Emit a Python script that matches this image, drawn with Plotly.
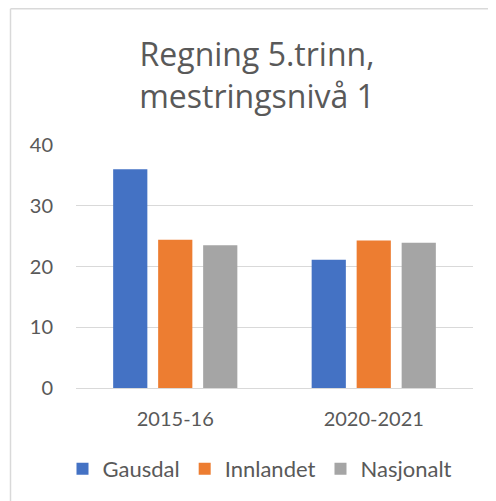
import plotly.graph_objects as go

categories = ["2015-16", "2020-2021"]
series_names = ["Gausdal", "Innlandet", "Nasjonalt"]
gausdal = [36.0, 21.1]
innlandet = [24.4, 24.3]
nasjonalt = [23.5, 23.9]
colors = ["#4472C4", "#ED7D31", "#A5A5A5"]
y_ticks = [0, 10, 20, 30, 40]
title_text = "Regning 5.trinn,<br>mestringsnivå 1"

# page body has an 8px margin, so the figure is drawn from (8, 8)
OFF = 8
W, H = 496 - OFF, 501 - OFF
ml, mr, mt, mb = 76 - OFF, 23, 145 - OFF, 113
pw, ph = W - ml - mr, H - mt - mb

FONT = "Lato"
TXT = "#595959"

fig = go.Figure()
for name, vals, col in zip(series_names, [gausdal, innlandet, nasjonalt], colors):
    fig.add_trace(go.Bar(x=categories, y=vals, name=name, marker_color=col,
                         marker_line_width=0))

# chart frame (left and top edges)
fx = (10 - OFF + 0.5 - ml) / pw
fy = (H - mb - (8 - OFF + 0.75)) / ph
fig.add_shape(type="line", xref="paper", yref="paper", x0=fx, x1=fx, y0=fy, y1=-1,
              line=dict(color="#D9D9D9", width=1.5))
fig.add_shape(type="line", xref="paper", yref="paper", x0=fx, x1=1.5, y0=fy, y1=fy,
              line=dict(color="#D9D9D9", width=1.5))

fig.update_layout(
    width=W, height=H,
    margin=dict(l=ml, r=mr, t=mt, b=mb, pad=0),
    paper_bgcolor="white", plot_bgcolor="white",
    barmode="group", bargap=0.32, bargroupgap=0.24,
    font=dict(family=FONT, color=TXT),
    title=dict(text=title_text, x=(257 - OFF) / W, xref="container", xanchor="center",
               y=1 - (66 - OFF) / H, yref="container", yanchor="middle",
               font=dict(family="Open Sans", size=32, color=TXT)),
    legend=dict(orientation="h", x=(260 - OFF) / W, xref="container", xanchor="center",
                y=1 - (469 - OFF) / H, yref="container", yanchor="middle",
                font=dict(family=FONT, size=22, color=TXT),
                itemwidth=30, traceorder="normal"),
    showlegend=True,
)
fig.update_yaxes(range=[0, 40], tickvals=y_ticks, showgrid=True, gridcolor="#D9D9D9",
                 gridwidth=1.2, zeroline=True, zerolinecolor="#D9D9D9", zerolinewidth=1.2,
                 showline=False, ticks="outside", ticklen=18, tickcolor="rgba(0,0,0,0)",
                 tickfont=dict(family=FONT, size=20, color=TXT))
fig.update_xaxes(showline=False, showgrid=False, ticks="outside", ticklen=13,
                 tickcolor="rgba(0,0,0,0)",
                 tickfont=dict(family=FONT, size=20, color=TXT))

fig.write_html("out.html")
